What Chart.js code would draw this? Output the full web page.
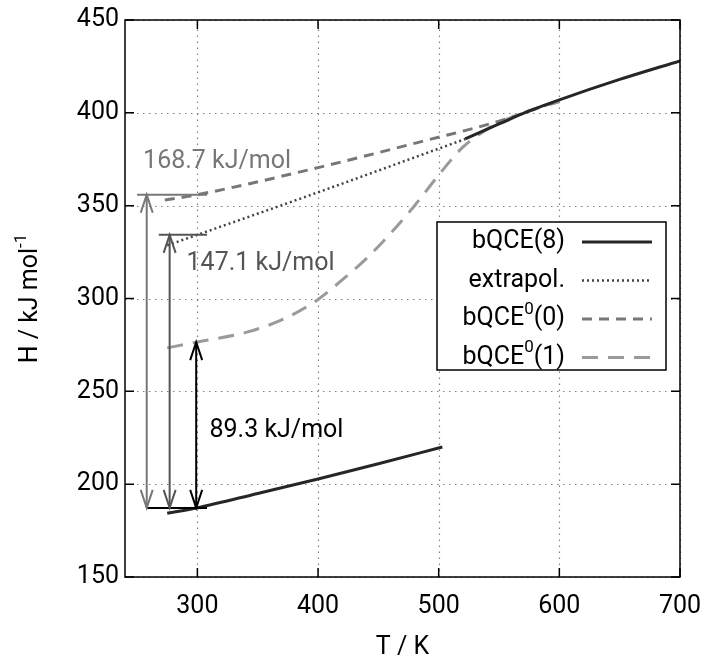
<!DOCTYPE html>
<html>
<head>
<meta charset="utf-8">
<script src="https://cdn.jsdelivr.net/npm/chart.js@4.4.0/dist/chart.umd.min.js"></script>
<style>
html, body { margin: 0; padding: 0; background: #fff; }
</style>
</head>
<body>
<canvas id="enthalpy" width="706" height="668"></canvas>
<script>
Chart.defaults.font.family = "Roboto";
Chart.defaults.font.size = 25;
Chart.defaults.color = "#000";

// axis ticks
var xTicks = [300, 400, 500, 600, 700];
var yTicks = [150, 200, 250, 300, 350, 400, 450];

// bQCE(8), split in two pieces (null = gap)
var solidT = [275, 300, 350, 400, 450, 503, 512, 522, 550, 575, 600, 650, 700];
var solidH = [184.3, 187.3, 195, 202.8, 211, 220, null, 386, 394, 401, 407, 418, 428];

// extrapolation of the low-T part
var extraT = [275, 300, 400, 522];
var extraH = [328.6, 334.3, 357.2, 385.9];

// bQCE0(0)
var qce0T = [273, 300, 400, 491, 550, 595];
var qce0H = [353, 355.9, 370.5, 385.4, 395.5, 405.5];

// bQCE0(1)
var qce1T = [275, 300, 342, 375, 400, 420, 440, 460, 480, 500, 520, 545, 570, 600];
var qce1H = [273.4, 276.6, 282, 290, 299.5, 310, 321.5, 335, 350, 366.5, 381.5, 393, 400, 406];

// enthalpy gaps at 300 K
var gapValues = [168.7, 147.1, 89.3];
var baseH = 187.2;
var arrowT = [258, 277, 299];
var capFromT = [250, 268, null];
var capToT = 308;
var baseFromT = 258;
var labelT = [255, 291, 310];
var labelH = [373.5, 318.5, 229];
var gapColors = ["#777777", "#555555", "#000000"];

function pts(t, h) {
    return t.map((x, i) => ({ x: x, y: h[i] }));
}

function arrowHead(ctx, x, y, dir) {
    ctx.beginPath();
    ctx.moveTo(x - 6, y + dir * 18);
    ctx.lineTo(x, y);
    ctx.lineTo(x + 6, y + dir * 18);
    ctx.stroke();
}

// label with an optional superscript: [base, sup, rest]
function supText(ctx, parts, x, y, size, align) {
    var big = size + "px Roboto", small = Math.round(size * 0.68) + "px Roboto";
    ctx.font = big;
    var w0 = ctx.measureText(parts[0]).width;
    var w2 = ctx.measureText(parts[2]).width;
    ctx.font = small;
    var w1 = ctx.measureText(parts[1]).width;
    var total = w0 + w1 + w2;
    var left = align === "right" ? x - total : (align === "center" ? x - total / 2 : x);
    ctx.textAlign = "left";
    ctx.textBaseline = "middle";
    ctx.font = big;
    ctx.fillText(parts[0], left, y);
    ctx.font = small;
    ctx.fillText(parts[1], left + w0, y - size * 0.38);
    ctx.font = big;
    ctx.fillText(parts[2], left + w0 + w1, y);
}

var frame = {
    id: "frame",
    beforeDatasetsDraw(chart) {
        var ctx = chart.ctx, a = chart.chartArea;
        var xs = chart.scales.x, ys = chart.scales.y;
        ctx.save();
        ctx.strokeStyle = "#808080";
        ctx.lineWidth = 1.2;
        ctx.setLineDash([1.5, 4.5]);
        xTicks.forEach(v => {
            var px = Math.round(xs.getPixelForValue(v)) + 0.5;
            ctx.beginPath(); ctx.moveTo(px, a.bottom); ctx.lineTo(px, a.top); ctx.stroke();
        });
        yTicks.forEach(v => {
            var py = Math.round(ys.getPixelForValue(v)) + 0.5;
            ctx.beginPath(); ctx.moveTo(a.left, py); ctx.lineTo(a.right, py); ctx.stroke();
        });
        ctx.restore();
    },
    afterDatasetsDraw(chart) {
        var ctx = chart.ctx, a = chart.chartArea;
        var xs = chart.scales.x, ys = chart.scales.y;
        ctx.save();

        // frame and inward ticks
        ctx.strokeStyle = "#000";
        ctx.lineWidth = 1.5;
        ctx.strokeRect(a.left, a.top, a.right - a.left, a.bottom - a.top);
        ctx.beginPath();
        xTicks.forEach(v => {
            var px = xs.getPixelForValue(v);
            ctx.moveTo(px, a.bottom); ctx.lineTo(px, a.bottom - 9);
            ctx.moveTo(px, a.top); ctx.lineTo(px, a.top + 9);
        });
        yTicks.forEach(v => {
            var py = ys.getPixelForValue(v);
            ctx.moveTo(a.left, py); ctx.lineTo(a.left + 9, py);
            ctx.moveTo(a.right, py); ctx.lineTo(a.right - 9, py);
        });
        ctx.stroke();

        // gap arrows
        var yBase = ys.getPixelForValue(baseH);
        ctx.lineWidth = 2;
        ctx.strokeStyle = "#000";
        ctx.beginPath();
        ctx.moveTo(xs.getPixelForValue(baseFromT), yBase);
        ctx.lineTo(xs.getPixelForValue(capToT), yBase);
        ctx.stroke();
        gapValues.forEach((g, i) => {
            var px = xs.getPixelForValue(arrowT[i]);
            var yTop = ys.getPixelForValue(baseH + g);
            ctx.strokeStyle = gapColors[i];
            ctx.fillStyle = gapColors[i];
            if (capFromT[i] !== null) {
                ctx.beginPath();
                ctx.moveTo(xs.getPixelForValue(capFromT[i]), yTop);
                ctx.lineTo(xs.getPixelForValue(capToT), yTop);
                ctx.stroke();
            }
            ctx.beginPath();
            ctx.moveTo(px, yTop);
            ctx.lineTo(px, yBase);
            ctx.stroke();
            arrowHead(ctx, px, yTop, 1);
            arrowHead(ctx, px, yBase, -1);
            ctx.font = "25px Roboto";
            ctx.textAlign = "left";
            ctx.textBaseline = "middle";
            ctx.fillText(g.toFixed(1) + " kJ/mol", xs.getPixelForValue(labelT[i]), ys.getPixelForValue(labelH[i]));
        });

        // legend
        var bx = a.left + 312, by = a.top + 202, bw = 229, bh = 148;
        ctx.strokeStyle = "#000";
        ctx.lineWidth = 1.5;
        ctx.setLineDash([]);
        ctx.fillStyle = "#fff";
        ctx.fillRect(bx, by, bw, bh);
        ctx.strokeRect(bx, by, bw, bh);
        var names = [["bQCE(8)", "", ""], ["extrapol.", "", ""], ["bQCE", "0", "(0)"], ["bQCE", "0", "(1)"]];
        chart.data.datasets.forEach((ds, i) => {
            var ry = by + 20 + i * 38.5;
            ctx.fillStyle = "#000";
            supText(ctx, names[i], bx + 128, ry, 25, "right");
            ctx.strokeStyle = ds.borderColor;
            ctx.lineWidth = ds.borderWidth;
            ctx.setLineDash(ds.borderDash || []);
            ctx.beginPath();
            ctx.moveTo(bx + 145, ry);
            ctx.lineTo(bx + 215, ry);
            ctx.stroke();
        });
        ctx.setLineDash([]);

        // axis titles
        ctx.fillStyle = "#000";
        ctx.font = "25px Roboto";
        ctx.textAlign = "center";
        ctx.textBaseline = "middle";
        ctx.fillText("T / K", (a.left + a.right) / 2, 648);
        ctx.translate(31, (a.top + a.bottom) / 2);
        ctx.rotate(-Math.PI / 2);
        supText(ctx, ["H / kJ mol", "-1", ""], 0, 0, 25, "center");
        ctx.restore();
    }
};

new Chart(document.getElementById("enthalpy").getContext("2d"), {
    type: "line",
    data: {
        datasets: [{
            label: "bQCE(8)",
            data: pts(solidT, solidH),
            borderColor: "#262626",
            borderWidth: 3
        }, {
            label: "extrapol.",
            data: pts(extraT, extraH),
            borderColor: "#444444",
            borderWidth: 2.5,
            borderDash: [2, 3]
        }, {
            label: "bQCE0(0)",
            data: pts(qce0T, qce0H),
            borderColor: "#777777",
            borderWidth: 3,
            borderDash: [10, 7]
        }, {
            label: "bQCE0(1)",
            data: pts(qce1T, qce1H),
            borderColor: "#9a9a9a",
            borderWidth: 3,
            borderDash: [16, 10]
        }]
    },
    options: {
        responsive: false,
        animation: false,
        devicePixelRatio: 1,
        layout: {
            padding: { top: 20, right: 26, left: 0, bottom: 0 }
        },
        elements: {
            point: { radius: 0 },
            line: { cubicInterpolationMode: "monotone", fill: false, borderCapStyle: "butt" }
        },
        plugins: {
            legend: { display: false },
            tooltip: { enabled: false }
        },
        scales: {
            x: {
                type: "linear",
                min: 240,
                max: 700,
                afterBuildTicks: (s) => { s.ticks = xTicks.map(v => ({ value: v })); },
                afterFit: (s) => { s.height = 91; s.paddingLeft = 0; s.paddingRight = 0; },
                grid: { display: false, drawTicks: false },
                border: { display: false },
                ticks: { padding: 15, font: { size: 25 }, color: "#000" }
            },
            y: {
                type: "linear",
                min: 150,
                max: 450,
                afterBuildTicks: (s) => { s.ticks = yTicks.map(v => ({ value: v })); },
                afterFit: (s) => { s.width = 125; s.paddingTop = 0; s.paddingBottom = 0; },
                grid: { display: false, drawTicks: false },
                border: { display: false },
                ticks: { padding: 6, font: { size: 25 }, color: "#000" }
            }
        }
    },
    plugins: [frame]
});
</script>
</body>
</html>
